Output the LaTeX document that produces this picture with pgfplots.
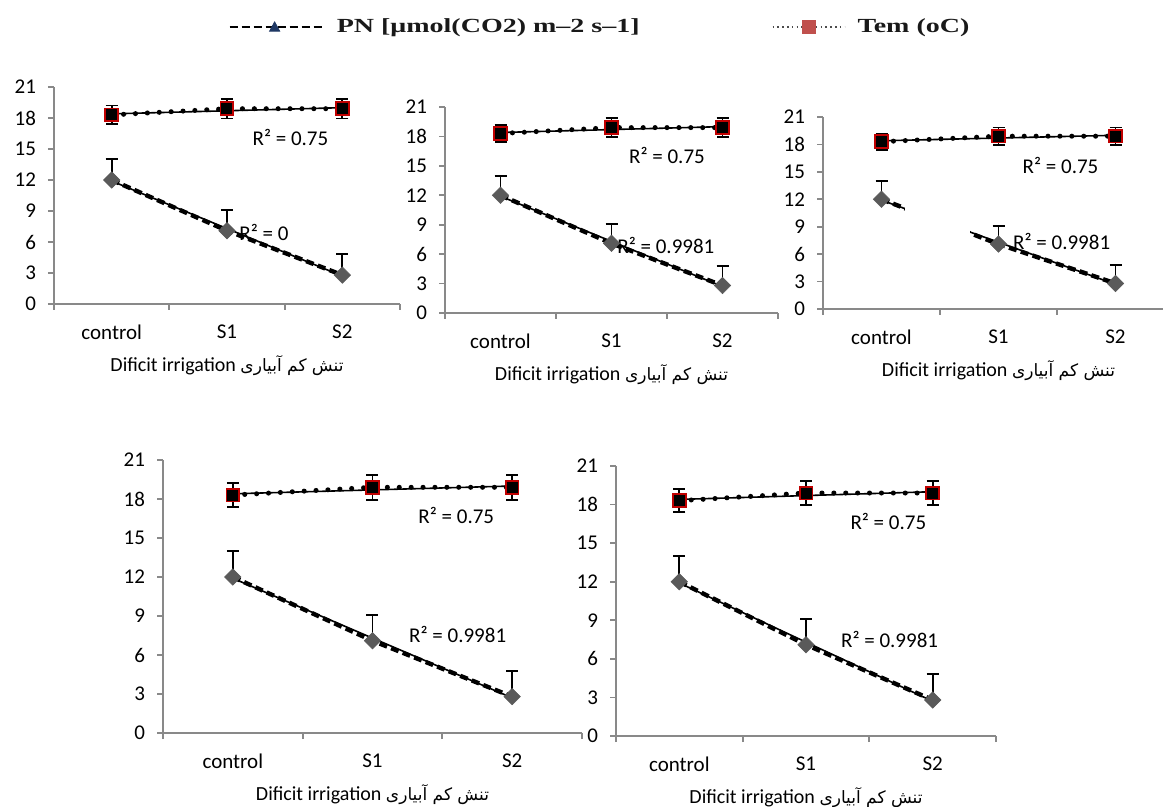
\documentclass[border=0pt]{standalone}
\usepackage{fontspec}
\usepackage{pgfplots}
\usepackage{pgfplotstable}
\pgfplotsset{compat=1.18}
\setmainfont{Carlito}
\newfontfamily\legfont[FakeStretch=1.4]{Liberation Serif}
\newfontfamily\arabicfont[Script=Arabic,Scale=0.85]{DejaVu Sans}
\TeXXeTstate=1

\definecolor{axgray}{HTML}{898989}
\definecolor{dgray}{HTML}{5A5A5A}
\definecolor{tred}{HTML}{C00000}
\definecolor{lred}{HTML}{C0504D}
\definecolor{navy}{HTML}{1F3864}

\pgfplotstableread{
x pn pne tem teme
1 12.0 2 18.3 0.9
2 7.1 2 18.9 0.95
3 2.8 2 18.9 0.95
}\datatab
\pgfplotstableread{
x pn tem
1 11.9 18.4
3 2.7 19.0
}\trendtab

\newcommand\xlab{Dificit irrigation {\arabicfont\beginR تنش کم آبیاری\endR}}
\newcommand\rfont{\fontsize{10.5}{12}\selectfont}

\pgfplotsset{
  panel/.style={
    scale only axis,
    axis x line*=bottom, axis y line*=left,
    xmin=0.5, xmax=3.5, ymin=0, ymax=21,
    xtick={0.5,1.5,2.5,3.5}, xticklabels={control,S1,S2},
    x tick label as interval,
    ytick={0,3,...,21},
    axis line style={draw=axgray, line width=0.9pt},
    major tick style={draw=axgray, line width=0.9pt},
    tick align=outside, major tick length=3pt,
    clip=false,
    /pgf/number format/assume math mode=true,
    tick label style={font=\rfont, black},
    xticklabel style={anchor=center, yshift=-11pt},
    yticklabel style={xshift=-2.5pt},
    xlabel={\xlab},
    every axis x label/.style={at={(axis description cs:0.5,0)}, anchor=center, yshift=-31pt, font=\fontsize{10}{12}\selectfont},
  },
}

\newcommand\panelplots{%
  \addplot[forget plot, black, line width=2.2pt, dash pattern=on 4pt off 2.2pt,
    mark=square*, mark size=2.9pt,
    mark options={solid, rotate=45, fill=dgray, draw=dgray, line width=0.3pt},
    error bars/.cd, y dir=plus, y explicit,
    error bar style={black, line width=0.9pt, solid},
    error mark options={rotate=90, black, mark size=3pt, line width=0.9pt, solid}]
    table[x=x, y=pn, y error=pne]{\datatab};
  \addplot[forget plot, black, line width=0.8pt] table[x=x, y=pn]{\trendtab};
  \addplot[forget plot, black, line width=2.5pt, dash pattern=on 0.05pt off 5.9pt, line cap=round,
    mark=square*, mark size=3.2pt,
    mark options={solid, fill=black, draw=tred, line width=0.9pt},
    error bars/.cd, y dir=both, y explicit,
    error bar style={black, line width=0.9pt, solid, line cap=butt},
    error mark options={rotate=90, black, mark size=3pt, line width=0.9pt, solid, line cap=butt}]
    table[x=x, y=tem, y error=teme]{\datatab};
  \addplot[forget plot, black, line width=0.8pt] table[x=x, y=tem]{\trendtab};
}

\begin{document}
\begin{tikzpicture}
\useasboundingbox (0pt,0pt) rectangle (581.5pt,-403.5pt);

% Panel 1
\begin{axis}[panel, at={(27pt,-152pt)}, anchor=south west, width=173pt, height=108.5pt,
  legend style={at={(0.503,1.276)}, anchor=west, draw=none, fill=none,
    inner sep=0pt, column sep=0pt, nodes={inner sep=0pt, anchor=west},
    font=\legfont\bfseries\fontsize{10}{12}\selectfont, text=black!90},
  legend columns=2]
  \addlegendimage{legend image code/.code={
    \draw[black, line width=1.2pt, dash pattern=on 4pt off 2pt] (0pt,0pt) -- (47pt,0pt);
    \fill[navy] (20pt,-2pt) -- (25pt,-2pt) -- (22.5pt,2.6pt) -- cycle;}}
  \addlegendentry{\hspace{6pt}PN [μmol(CO2) m–2 s–1]\rule{66pt}{0pt}}
  \addlegendimage{legend image code/.code={
    \draw[black!70, line width=1pt, dash pattern=on 0.8pt off 1.6pt] (0pt,0pt) -- (36pt,0pt);
    \fill[lred] (15pt,-3.2pt) rectangle (21.5pt,3.2pt);}}
  \addlegendentry{\hspace{6pt}Tem (oC)}
  \panelplots
  \node[font=\rfont] at (axis cs:2.55,16.07) {R² = 0.75};
  \node[font=\rfont] at (axis cs:2.32,6.97) {R² = 0};
\end{axis}

% Panel 2
\begin{axis}[panel, at={(222.5pt,-156.5pt)}, anchor=south west, width=166.5pt, height=103pt]
  \panelplots
  \node[font=\rfont] at (axis cs:2.5,16.1) {R² = 0.75};
  \node[font=\rfont] at (axis cs:2.49,6.93) {R² = 0.9981};
\end{axis}

% Panel 3
\begin{axis}[panel, at={(411.5pt,-154.5pt)}, anchor=south west, width=175.5pt, height=96pt]
  \panelplots
  \fill[white] (axis cs:1.2,7.6) rectangle (axis cs:1.76,11.5);
  \node[font=\rfont] at (axis cs:2.53,15.75) {R² = 0.75};
  \node[font=\rfont] at (axis cs:2.54,7.33) {R² = 0.9981};
\end{axis}

% Panel 4
\begin{axis}[panel, at={(81.5pt,-366.5pt)}, anchor=south west, width=209.5pt, height=136.5pt]
  \panelplots
  \node[font=\rfont] at (axis cs:2.6,16.77) {R² = 0.75};
  \node[font=\rfont] at (axis cs:2.61,7.54) {R² = 0.9981};
\end{axis}

% Panel 5
\begin{axis}[panel, at={(308pt,-368pt)}, anchor=south west, width=190pt, height=135pt]
  \panelplots
  \node[font=\rfont] at (axis cs:2.65,16.72) {R² = 0.75};
  \node[font=\rfont] at (axis cs:2.66,7.47) {R² = 0.9981};
\end{axis}
\end{tikzpicture}
\end{document}
